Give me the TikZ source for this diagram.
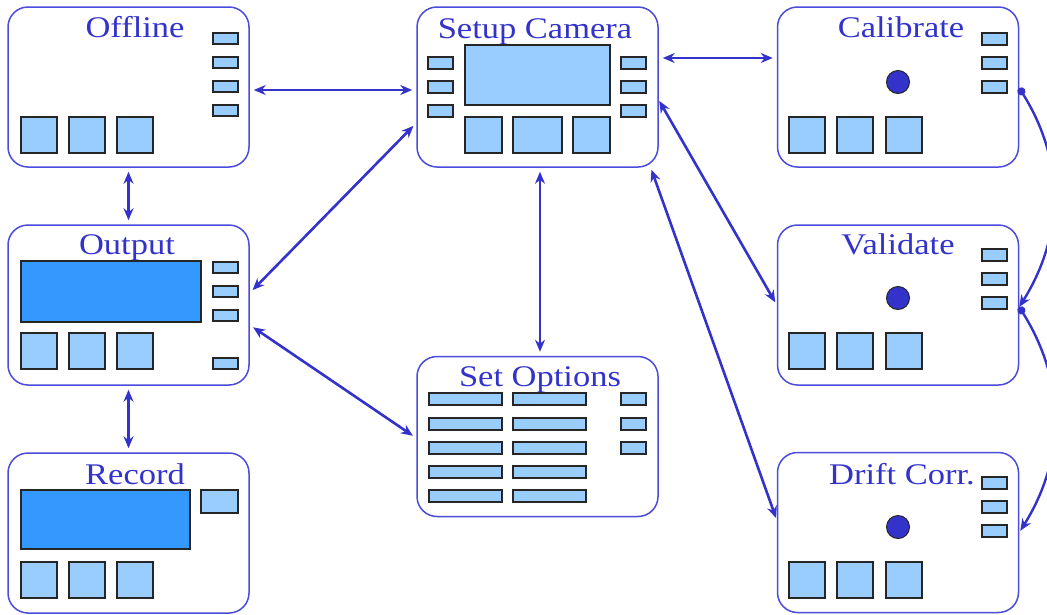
\documentclass[tikz,border=0pt]{standalone}
\usepackage{fontspec}
\setmainfont{Liberation Serif}
\newfontfamily\titlefont{Liberation Serif}[FakeStretch=1.15]
\usepackage{tikz}
\usetikzlibrary{arrows.meta}
\definecolor{boxblue}{RGB}{75,75,220}
\definecolor{linkblue}{RGB}{51,51,204}
\definecolor{lightfill}{RGB}{153,204,255}
\definecolor{darkfill}{RGB}{51,153,255}
\tikzset{
  panel/.style={draw=boxblue, line width=1.5pt, rounded corners=20pt,
    minimum width=241pt, minimum height=160pt, inner sep=0pt},
  ttl/.style={font=\titlefont\fontsize{30}{36}\selectfont, text=linkblue,
    anchor=base, inner sep=0pt},
  btn/.style={draw=black!85, line width=1.3pt, fill=lightfill},
  dscr/.style={draw=black!85, line width=1.3pt, fill=darkfill},
  knob/.style={draw=black!85, line width=1pt, fill=linkblue},
  link/.style={draw=linkblue, line width=2.6pt,
    {Stealth[length=12pt,width=10pt]}-{Stealth[length=12pt,width=10pt]},
    shorten <=4pt, shorten >=4pt},
  loop/.style={draw=linkblue, line width=2.4pt,
    {Circle[length=8pt]}-{Stealth[length=12pt,width=10pt]}}
}
\begin{document}
\begin{tikzpicture}[x=1pt,y=-1pt]
\fill[white] (0,0) rectangle (1047,614);
\useasboundingbox (0,0) rectangle (1047,614);
% panels
\node[panel] (off) at (128.5,87) {};
\node[panel] (setup) at (537.5,87) {};
\node[panel] (cal) at (898,87) {};
\node[panel] (out) at (128.5,305) {};
\node[panel] (val) at (898,305) {};
\node[panel] (opt) at (537.5,436.5) {};
\node[panel] (rec) at (128.5,533) {};
\node[panel] (drift) at (898,532.5) {};
%
\node[ttl] (offT) at (135,37) {Offline};
\node[ttl] (setupT) at (535,38) {Setup Camera};
\node[ttl] (calT) at (901,37) {Calibrate};
\node[ttl] (outT) at (127,254) {Output};
\node[ttl] (valT) at (898,254) {Validate};
\node[ttl] (optT) at (540,386) {Set Options};
\node[ttl] (recT) at (135,484) {Record};
\node[ttl] (driftT) at (902,484) {Drift Corr.};
%
% Offline
\foreach \y in {33,57,81,105}
  \draw[btn] (213,\y) rectangle +(25,11);
\foreach \x in {21,69,117}
  \draw[btn] (\x,117) rectangle +(36,36);
%
% Setup Camera
\draw[btn] (465,45) rectangle (610,105);
\foreach \y in {57,81,105} {
  \draw[btn] (428,\y) rectangle +(25,12);
  \draw[btn] (621,\y) rectangle +(25,12);
}
\draw[btn] (465,117) rectangle (502,153);
\draw[btn] (513,117) rectangle (562,153);
\draw[btn] (573,117) rectangle (610,153);
%
% Calibrate, Validate, Drift Corr.
\foreach \y/\dy/\sy in {33/82/117, 249/298/333, 477/527/562} {
  \foreach \k in {0,24,48}
    \draw[btn] (982,\y+\k) rectangle +(25,12);
  \draw[knob] (898,\dy) circle (11.5pt);
  \foreach \x in {789,837,886}
    \draw[btn] (\x,\sy) rectangle +(36,36);
}
%
% Output
\draw[dscr] (21,261) rectangle (201,322);
\foreach \y in {262,286,310,358}
  \draw[btn] (213,\y) rectangle +(25,11);
\foreach \x in {21,69,117}
  \draw[btn] (\x,333) rectangle +(36,36);
%
% Set Options
\foreach \y in {393,418,442,466,490} {
  \draw[btn] (429,\y) rectangle +(73,12);
  \draw[btn] (513,\y) rectangle +(73,12);
}
\foreach \y in {393,418,442}
  \draw[btn] (621,\y) rectangle +(25,12);
%
% Record
\draw[dscr] (21,490) rectangle (190,549);
\draw[btn] (201,490) rectangle (238,513);
\foreach \x in {21,69,117}
  \draw[btn] (\x,562) rectangle +(36,36);
%
% links
\foreach \Source/\Target in {%
	off.south/out.north,
	out.south/rec.north%
    }
\draw[link] (\Source) to (\Target);
%
\draw[link] ([yshift=-3pt]off.east) -- ([yshift=-3pt]setup.west);
\draw[link] ([yshift=29pt]setup.east) -- ([yshift=29pt]cal.west);
\draw[link] ([xshift=2.5pt]setup.south) -- ([xshift=2.5pt]opt.north);
\draw[link] ([yshift=12pt]out.east) -- ([yshift=-36pt]setup.west);
\draw[link] ([yshift=-20pt]out.east) -- ([yshift=-1.5pt]opt.west);
\draw[link, shorten <=1pt, shorten >=3pt] ([yshift=-13pt]setup.east) -- (val.west);
\draw[link, shorten <=2pt, shorten >=2pt] ([xshift=-8pt]setup.south east) -- ([yshift=12.5pt]drift.west);
%
\draw[loop] ([yshift=-1pt]cal.east) to[bend left=32] ([yshift=-2pt]val.east);
\draw[loop, shorten >=2pt] ([yshift=-2pt]val.east) to[bend left=32] (drift.east);
\end{tikzpicture}
\end{document}
